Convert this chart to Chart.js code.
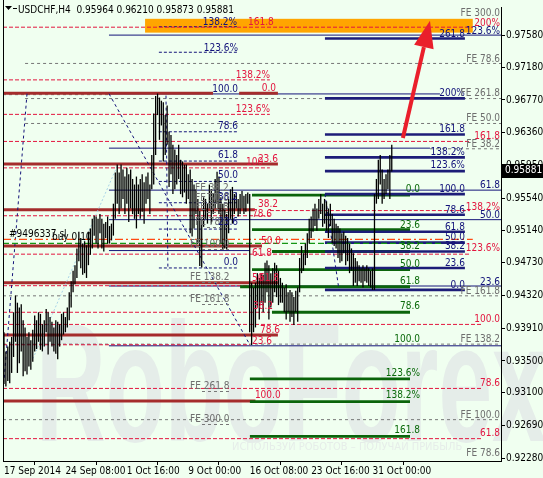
<!DOCTYPE html>
<html><head><meta charset="utf-8">
<script src="https://cdn.jsdelivr.net/npm/chart.js@4.4.1/dist/chart.umd.min.js"></script>
<style>html,body{margin:0;padding:0;background:#f0fff0;}</style>
</head><body>
<canvas id="c" width="543" height="478"></canvas>
<script>
const FONT = '"DejaVu Sans Condensed","Liberation Sans",sans-serif';

// ---- axis data ----
const timeLabels = ["17 Sep 2014","24 Sep 08:00","1 Oct 16:00","9 Oct 00:00","16 Oct 08:00","23 Oct 16:00","31 Oct 00:00"];
const timeTickBars = [0,32,64,96,128,160,192];
const priceTicks = [0.97580,0.97180,0.96770,0.96360,0.95950,0.95540,0.95140,0.94730,0.94320,0.93910,0.93500,0.93100,0.92690,0.92280];
const priceMin = 0.92247, priceMax = 0.97934;
const symbolTitle = "USDCHF,H4";
const lastQuote = [0.95964, 0.96210, 0.95873, 0.95881]; // O H L C

// ---- H4 bars (high / low) ----
const barHigh = [0.9386,0.9362,0.9368,0.9374,0.9380,0.9411,0.9432,0.9423,0.9417,0.9421,
 0.9401,0.9392,0.9380,0.9386,0.9376,0.9389,0.9407,0.9401,0.9411,0.9409,
 0.9396,0.9401,0.9415,0.9411,0.9405,0.9399,0.9392,0.9401,0.9399,0.9396,
 0.9409,0.9411,0.9405,0.9417,0.9436,0.9450,0.9463,0.9470,0.9491,0.9512,
 0.9504,0.9497,0.9500,0.9495,0.9512,0.9516,0.9528,0.9532,0.9531,0.9528,
 0.9534,0.9528,0.9522,0.9524,0.9531,0.9519,0.9522,0.9547,0.9586,0.9596,
 0.9586,0.9596,0.9590,0.9581,0.9592,0.9584,0.9590,0.9578,0.9571,0.9581,
 0.9571,0.9578,0.9584,0.9574,0.9581,0.9586,0.9571,0.9608,0.9660,0.9682,
 0.9685,0.9680,0.9676,0.9674,0.9658,0.9670,0.9637,0.9633,0.9621,0.9615,
 0.9608,0.9621,0.9602,0.9600,0.9596,0.9596,0.9584,0.9590,0.9578,0.9571,
 0.9565,0.9553,0.9538,0.9528,0.9555,0.9553,0.9547,0.9571,0.9565,0.9559,
 0.9578,0.9587,0.9581,0.9555,0.9547,0.9541,0.9534,0.9553,0.9565,0.9568,
 0.9559,0.9561,0.9553,0.9559,0.9563,0.9557,0.9559,0.9561,0.9559,0.9448,
 0.9442,0.9448,0.9460,0.9454,0.9460,0.9458,0.9473,0.9476,0.9470,0.9460,
 0.9466,0.9473,0.9470,0.9463,0.9454,0.9448,0.9442,0.9446,0.9436,0.9439,
 0.9436,0.9430,0.9438,0.9442,0.9479,0.9494,0.9485,0.9497,0.9510,0.9528,
 0.9531,0.9541,0.9547,0.9541,0.9553,0.9559,0.9547,0.9553,0.9550,0.9541,
 0.9547,0.9534,0.9528,0.9522,0.9519,0.9516,0.9510,0.9512,0.9507,0.9504,
 0.9497,0.9491,0.9485,0.9479,0.9475,0.9470,0.9466,0.9470,0.9466,0.9470,
 0.9466,0.9463,0.9466,0.9559,0.9578,0.9602,0.9608,0.9590,0.9578,0.9584,
 0.9590,0.9608,0.96210];
const barLow = [0.9321,0.9318,0.9325,0.9322,0.9335,0.9355,0.9374,0.9335,0.9347,0.9362,
 0.9331,0.9337,0.9333,0.9343,0.9339,0.9349,0.9362,0.9365,0.9374,0.9364,
 0.9362,0.9368,0.9386,0.9358,0.9374,0.9368,0.9362,0.9359,0.9352,0.9368,
 0.9376,0.9383,0.9386,0.9392,0.9401,0.9417,0.9436,0.9446,0.9454,0.9475,
 0.9466,0.9458,0.9460,0.9454,0.9470,0.9483,0.9491,0.9507,0.9497,0.9491,
 0.9510,0.9491,0.9487,0.9504,0.9497,0.9497,0.9501,0.9507,0.9528,0.9547,
 0.9534,0.9541,0.9553,0.9534,0.9547,0.9524,0.9541,0.9534,0.9528,0.9516,
 0.9534,0.9528,0.9537,0.9522,0.9547,0.9553,0.9534,0.9565,0.9571,0.9608,
 0.9658,0.9627,0.9645,0.9600,0.9608,0.9621,0.9568,0.9584,0.9559,0.9565,
 0.9571,0.9578,0.9559,0.9555,0.9561,0.9547,0.9553,0.9510,0.9506,0.9516,
 0.9534,0.9497,0.9469,0.9467,0.9518,0.9528,0.9522,0.9541,0.9522,0.9534,
 0.9541,0.9547,0.9534,0.9497,0.9489,0.9491,0.9489,0.9510,0.9528,0.9522,
 0.9534,0.9541,0.9531,0.9534,0.9541,0.9534,0.9537,0.9547,0.9386,0.9370,
 0.9386,0.9392,0.9417,0.9402,0.9423,0.9411,0.9423,0.9436,0.9402,0.9417,
 0.9423,0.9436,0.9430,0.9420,0.9423,0.9423,0.9411,0.9402,0.9411,0.9399,
 0.9405,0.9395,0.9411,0.9399,0.9436,0.9460,0.9463,0.9470,0.9479,0.9497,
 0.9504,0.9512,0.9519,0.9513,0.9528,0.9534,0.9518,0.9522,0.9513,0.9504,
 0.9519,0.9497,0.9494,0.9491,0.9479,0.9473,0.9475,0.9485,0.9470,0.9475,
 0.9460,0.9463,0.9444,0.9448,0.9444,0.9450,0.9448,0.9442,0.9450,0.9448,
 0.9444,0.9442,0.9439,0.9439,0.9547,0.9553,0.9571,0.9547,0.9553,0.9559,
 0.9565,0.9553,0.95873];

// ---- horizontal levels (price, from bar, to bar) ----
const pivotPrice = [0.96855,0.96855,0.95966,0.95393,0.94940,0.94480,0.93826,0.92999];
const pivotFrom  = [-0.5,122.5,-0.5,-0.5,-0.5,-0.5,-0.5,-0.5];
const pivotTo    = [108.9,142.7,142.7,130.7,134.4,142.7,142.7,131.0];

const redPrice = [0.97681,0.97021,0.96589,0.96250,0.95919,0.95319,0.95384,0.94838,0.94443,0.94110,0.93958,0.93703,0.93156,0.92527];
const redFrom  = [-0.5,-0.5,-0.5,-0.5,-0.5,-0.5,138.5,-0.5,-0.5,-0.5,-0.5,-0.5,-0.5,-0.5];
const redTo    = [244.2,138.5,138.5,242.7,138.5,138.5,242.7,242.7,138.5,138.5,249.5,128.1,249.5,249.5];

const grayPrice = [0.97227,0.96836,0.96787,0.96475,0.96158,0.94316,0.93711,0.92765];
const grayFrom  = [11,-0.5,11,11,221.9,-0.5,-0.5,-0.5];
const grayTo    = [258.9,54.7,258.9,258.9,258.9,258.9,258.9,258.9];

const navyPrice = [0.97582,0.96845,0.96166,0.95640,0.95270,0.94883,0.94439,0.93690];
const navyFrom  = [54.7,54.7,54.7,54.7,54.7,54.7,54.7,54.7];
const navyTo    = [258.9,227.1,221.9,258.9,258.9,128.1,258.9,258.9];

const fibAPrice = [0.97687,0.97367,0.96371,0.96004,0.95749,0.95482,0.95152,0.94665];
const fibAFrom = 80.7, fibATo = 121.9;

const fibBPrice = [0.97539,0.96790,0.96336,0.96050,0.95878,0.95590,0.95331,0.95118,0.94982,0.94871,0.94665,0.94390];
const fibBFrom = 167.2, fibBTo = 240.1;

const fibCPrice = [0.95578,0.95146,0.94871,0.94644,0.94430,0.94110,0.93275,0.92991,0.92555];
const fibCFrom  = [129.2,129.2,139.6,129.2,123.0,139.6,128.1,128.1,128.1];
const fibCTo = 211.5;

const orderPrice = [0.95022, 0.94973]; // sl, buy
const orderTo = [244.2, 229.0];

// diagonal tool lines
const diagFromBar = [12.0, 54.7, 84.4, 167.2, 15.1];
const diagFromP   = [0.96848,0.96848,0.96824,0.95590,0.93530];
const diagToBar   = [0.02, 128.1, 85.4, 174.5, 58.9];
const diagToP     = [0.93246,0.93703,0.94640,0.94393,0.95935];
const diagKind    = ['n','n','n','n','b'];

// target zone and arrow
const zoneBars = [73.5, 244.2], zonePrices = [0.97786, 0.97613];
const arrowBars = [207.8, 221.9], arrowPrices = [0.96293, 0.97761];

// ---- level labels ----
const lblText = ["FE 300.0","200%","123.6%","261.8","161.8","138.2%","123.6%","FE 78.6","138.2%","100.0","0.0","200%","FE 261.8","123.6%","FE 50.0","78.6","161.8","161.8","FE 38.2","138.2%","61.8","100","23.6","123.6%","50.0","FE 38.2","0.0","100.0","61.8","38.2","FE 50.0","38.2","FE 61.8","78.6","138.2%","78.6","50.0","FE 78.6","23.6","23.6","61.8","50.0","50.0","FE 100.0","38.2","38.2","123.6%","61.8","50.0","23.6","0.0","FE 138.2","50","61.8","61.8","0.0","23.6","FE 161.8","FE 161.8","38.2","78.6","100.0","78.6","FE 138.2","100.0","23.6","123.6%","78.6","FE 261.8","100.0","138.2%","FE 100.0","FE 300.0","161.8","61.8","FE 78.6"];
const lblPrice = [0.97823,0.97700,0.97601,0.97564,0.97712,0.97712,0.97379,0.97243,0.97046,0.96873,0.96885,0.96824,0.96824,0.96614,0.96503,0.96404,0.96367,0.96281,0.96182,0.96083,0.96046,0.95960,0.95997,0.95911,0.95787,0.95627,0.95615,0.95615,0.95664,0.95516,0.95504,0.95430,0.95393,0.95356,0.95393,0.95306,0.95294,0.95208,0.95208,0.95170,0.95146,0.95010,0.94961,0.94924,0.94899,0.94899,0.94874,0.94813,0.94677,0.94689,0.94702,0.94517,0.94504,0.94504,0.94467,0.94418,0.94455,0.94344,0.94233,0.94147,0.94147,0.93986,0.93850,0.93740,0.93740,0.93715,0.93310,0.93184,0.93147,0.93036,0.93036,0.92789,0.92740,0.92592,0.92555,0.92308];
const lblBar = [258.4,258.4,258.4,240.1,127.1,121.4,121.9,258.4,138.6,121.9,141.7,240.1,258.4,138.6,258.4,121.9,240.1,258.4,258.4,240.1,121.9,126.1,142.7,240.1,121.9,99.5,216.7,240.1,258.4,121.9,99.5,132.3,99.5,240.1,258.4,129.2,258.4,99.5,121.9,216.7,240.1,240.1,133.9,96.9,216.7,240.1,258.4,129.2,216.7,240.1,121.9,96.9,129.2,132.8,216.7,240.1,258.4,258.4,96.9,129.7,216.7,258.4,133.4,258.4,216.7,129.2,216.7,258.4,96.9,130.7,216.7,258.4,96.9,216.7,258.4,258.4];
const lblAlign = ['r','r','r','r','l','r','r','r','r','r','r','r','r','r','r','r','r','r','r','r','r','l','r','r','r','l','r','r','r','r','l','l','l','r','r','l','r','l','r','r','r','r','l','l','r','r','r','l','r','r','r','l','l','l','r','r','r','r','l','l','r','r','l','r','r','l','r','r','l','l','r','r','l','r','r','r'];
const lblKind  = ['g','r','n','n','r','n','n','g','r','n','r','n','g','r','g','n','n','r','g','n','n','r','r','n','n','g','G','n','n','n','g','r','g','n','r','r','n','g','n','G','n','n','r','g','G','n','r','r','G','n','n','g','r','r','G','n','n','g','g','r','G','r','r','g','G','r','G','r','g','r','G','g','g','G','r','g'];

const COL = {n:'#12127a', r:'#e3163f', g:'#6e6e6e', G:'#0b6a0b'};

function hline(p,a,b,color,w,dash,order){
  return {type:'line', data:[{x:a,y:p},{x:b,y:p}], borderColor:color, borderWidth:w,
          borderDash:dash||[], pointRadius:0, fill:false, order:order||2, tension:0};
}
const ds = [];
ds.push({type:'bar', data: barHigh.map((h,i)=>({x:i, y:[barLow[i], h]})), backgroundColor:'#000',
         borderWidth:0, barThickness:1.3, inflateAmount:0, grouped:false, order:0});
grayPrice.forEach((p,i)=>ds.push(hline(p,grayFrom[i],grayTo[i],'#777',1,[3,3],5)));
redPrice.forEach((p,i)=>ds.push(hline(p,redFrom[i],redTo[i],'#e3163f',1,[4,2],4)));
navyPrice.forEach((p,i)=>ds.push(hline(p,navyFrom[i],navyTo[i],'#14147a',1,[],4)));
fibAPrice.forEach(p=>ds.push(hline(p,fibAFrom,fibATo,'#14147a',1,[3,2],4)));
fibBPrice.forEach(p=>ds.push(hline(p,fibBFrom,fibBTo,'#1d1d78',2.6,[],3)));
fibCPrice.forEach((p,i)=>ds.push(hline(p,fibCFrom[i],fibCTo,'#0a640a',2.8,[],3)));
pivotPrice.forEach((p,i)=>ds.push(hline(p,pivotFrom[i],pivotTo[i],'#a52c2c',3,[],3)));
ds.push(hline(orderPrice[0],-0.5,orderTo[0],'#ff4a12',1.3,[8,3,2,3],2));
ds.push(hline(orderPrice[1],-0.5,orderTo[1],'#149614',1.3,[6,3],2));
diagFromBar.forEach((b,i)=>ds.push({type:'line', data:[{x:b,y:diagFromP[i]},{x:diagToBar[i],y:diagToP[i]}],
   borderColor: diagKind[i]==='b'?'#a8d4e8':'#14147a', borderWidth:1, borderDash: diagKind[i]==='b'?[2,2]:[3,3],
   pointRadius:0, fill:false, order:2}));

const deco = {
  id:'deco',
  beforeDraw(chart){
    const c = chart.ctx; c.save();
    c.fillStyle = '#f0fff0'; c.fillRect(0,0,chart.width,chart.height);
    c.fillStyle = '#e5ede9';
    c.translate(36, 441); c.scale(0.575, 1);
    c.font = 'bold 168px "Liberation Sans",sans-serif';
    c.textBaseline = 'alphabetic'; c.fillText('RoboForex', 0, 0);
    c.restore(); c.save();
    c.fillStyle = '#e6ede9'; c.font = '11px ' + FONT;
    c.fillText('ИСПОЛЬЗУЙ РОБОТОВ – ПОЛУЧАЙ ПРИБЫЛЬ', 232, 450);
    c.restore();
  },
  beforeDatasetsDraw(chart){
    const {ctx:c, scales:{x,y}} = chart; c.save();
    c.fillStyle = '#ffa500';
    const x0 = x.getPixelForValue(zoneBars[0]), x1 = x.getPixelForValue(zoneBars[1]);
    const y0 = y.getPixelForValue(zonePrices[0]), y1 = y.getPixelForValue(zonePrices[1]);
    c.fillRect(x0, y0, x1-x0, y1-y0);
    c.restore();
  },
  afterDatasetsDraw(chart){
    const {ctx:c, scales:{x,y}, chartArea:a} = chart; c.save();
    const ax0 = x.getPixelForValue(arrowBars[0]), ay0 = y.getPixelForValue(arrowPrices[0]);
    const ax1 = x.getPixelForValue(arrowBars[1]), ay1 = y.getPixelForValue(arrowPrices[1]);
    const ang = Math.atan2(ay1-ay0, ax1-ax0), hl = 27, hw = 10;
    const bx = ax1 - hl*Math.cos(ang), by = ay1 - hl*Math.sin(ang);
    c.strokeStyle = '#ea1f2b'; c.fillStyle = '#ea1f2b'; c.lineWidth = 4;
    c.beginPath(); c.moveTo(ax0,ay0); c.lineTo(bx,by); c.stroke();
    c.beginPath(); c.moveTo(ax1,ay1);
    c.lineTo(bx + hw*Math.sin(ang), by - hw*Math.cos(ang));
    c.lineTo(bx - hw*Math.sin(ang), by + hw*Math.cos(ang));
    c.closePath(); c.fill();
    c.font = '10px ' + FONT; c.textBaseline = 'alphabetic';
    lblText.forEach((t,i)=>{
      const px = x.getPixelForValue(lblBar[i]), py = y.getPixelForValue(lblPrice[i]);
      c.fillStyle = COL[lblKind[i]];
      c.textAlign = lblAlign[i]==='l' ? 'left' : 'right';
      c.fillText(t, px, py);
      if (lblKind[i]==='g' && lblAlign[i]==='l') {
        const w = c.measureText(t).width;
        c.strokeStyle = '#777'; c.lineWidth = 1; c.setLineDash([3,3]);
        c.beginPath(); c.moveTo(px+12, Math.round(py)+2.5); c.lineTo(px+w, Math.round(py)+2.5); c.stroke();
        c.setLineDash([]);
      }
    });
    c.fillStyle = '#000'; c.textAlign = 'left';
    c.fillText('#9496337 sl', x.getPixelForValue(2.6), y.getPixelForValue(0.95047));
    c.fillText('buy 0.10', x.getPixelForValue(25.0), y.getPixelForValue(0.95010));
    c.strokeStyle = '#000'; c.lineWidth = 1;
    c.beginPath(); c.moveTo(Math.round(a.left)+0.5, 0); c.lineTo(Math.round(a.left)+0.5, a.bottom); c.stroke();
    c.fillStyle = '#000';
    c.beginPath(); c.moveTo(5,6); c.lineTo(12,6); c.lineTo(8.5,10); c.closePath(); c.fill();
    c.fillRect(13,8,4,1);
    c.font = '10px ' + FONT; c.textAlign='left';
    c.fillText(symbolTitle + '  ' + lastQuote.map(v=>v.toFixed(5)).join(' '), 18, 13);
    c.restore();
  },
  afterDraw(chart){
    const {ctx:c, scales:{y}, chartArea:a} = chart; c.save();
    const py = y.getPixelForValue(lastQuote[3]);
    c.fillStyle = '#000'; c.fillRect(a.right+1, Math.round(py)-7, chart.width - a.right - 1, 14);
    c.fillStyle = '#fff'; c.font = '10px ' + FONT; c.textBaseline = 'middle'; c.textAlign = 'left';
    c.fillText(lastQuote[3].toFixed(5), a.right+4, py);
    c.restore();
  }
};

new Chart(document.getElementById('c'), {
  type:'bar',
  data:{datasets: ds},
  plugins:[deco],
  options:{
    responsive:false, animation:false, devicePixelRatio:1,
    layout:{padding:{left:3, top:0, right:0, bottom:0}},
    plugins:{legend:{display:false}, tooltip:{enabled:false}},
    scales:{
      x:{type:'linear', min:-0.5, max:258.9, offset:false,
         afterBuildTicks: s => { s.ticks = timeTickBars.map(v=>({value:v})); },
         afterFit: s => { s.height = 17; },
         grid:{display:true, drawOnChartArea:false, drawTicks:true, tickLength:4, color:'#000'},
         border:{display:true, color:'#000'},
         ticks:{autoSkip:false, maxRotation:0, align:'start', padding:0, color:'#000',
                font:{family:FONT, size:10},
                callback:(v)=>{ const k = timeTickBars.indexOf(v); return k>=0 ? timeLabels[k] : ''; }}},
      y:{type:'linear', position:'right', min:priceMin, max:priceMax,
         afterBuildTicks: s => { s.ticks = priceTicks.map(v=>({value:v})); },
         afterFit: s => { s.width = 42; },
         grid:{display:true, drawOnChartArea:false, drawTicks:true, tickLength:4, color:'#000'},
         border:{display:true, color:'#000'},
         ticks:{padding:1, color:'#000', font:{family:FONT, size:10},
                callback:(v)=>Number(v).toFixed(5)}}
    }
  }
});
</script>
</body></html>
